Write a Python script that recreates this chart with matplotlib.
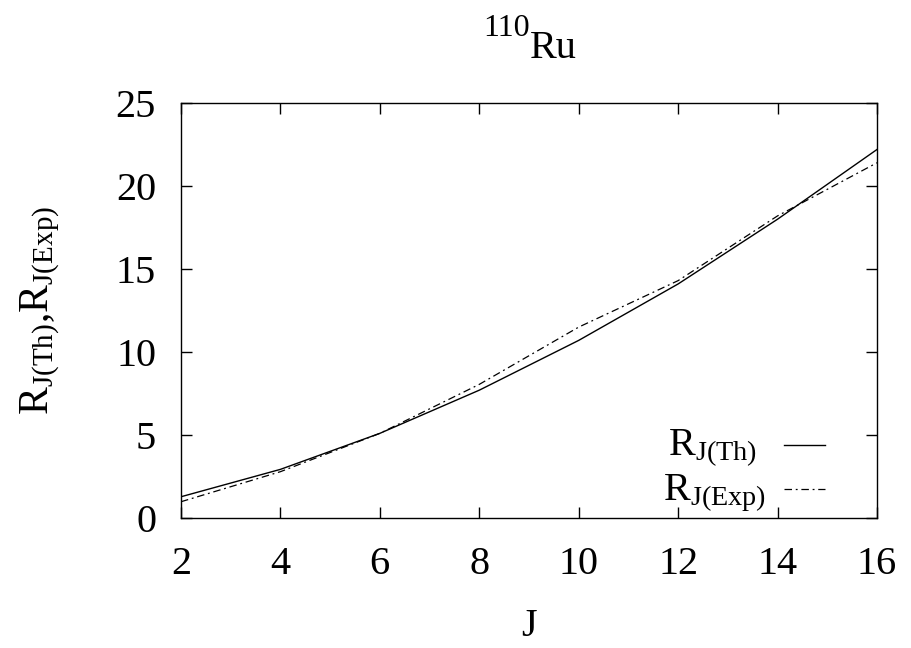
import matplotlib.pyplot as plt
from matplotlib.lines import Line2D

plt.rcParams['font.family'] = 'Liberation Serif'
plt.rcParams['mathtext.fontset'] = 'custom'
plt.rcParams['mathtext.rm'] = 'Liberation Serif'
plt.rcParams['mathtext.it'] = 'Liberation Serif'

J = [2, 4, 6, 8, 10, 12, 14, 16]
r_th = [1.28, 2.93, 5.1, 7.7, 10.7, 14.1, 18.0, 22.2]
r_exp = [0.98, 2.79, 5.1, 8.05, 11.5, 14.3, 18.2, 21.4]

W, H = 911, 648
fig = plt.figure(figsize=(W / 100, H / 100), dpi=100)
ax = fig.add_axes([181 / W, 1 - 518 / H, 696 / W, 415 / H])

th_style = dict(color='black', lw=1.0)
exp_style = dict(color='black', lw=0.9, linestyle=(0, (6, 3, 1.5, 3)))

ax.plot(J, r_th, **th_style)
ax.plot(J, r_exp, **exp_style)

ax.set_xlim(2, 16)
ax.set_ylim(0, 25)
ax.set_xticks(range(2, 17, 2))
ax.set_yticks(range(0, 26, 5))
ax.tick_params(direction='in', length=8, width=1, top=True, right=True,
               labelsize=29)
ax.tick_params(axis='x', pad=20)
ax.tick_params(axis='y', pad=18)
for s in ax.spines.values():
    s.set_linewidth(1)

# title: gnuplot-style superscript
fig.text(530 / W, 1 - 36 / H, '110', ha='right', va='baseline', fontsize=23)
fig.text(530 / W, 1 - 58 / H, 'Ru', ha='left', va='baseline', fontsize=29)

ax.set_xlabel('J', fontsize=29, labelpad=18)
ax.set_ylabel(r'$\mathrm{R_{J(Th)}{,}R_{J(Exp)}}$', fontsize=30)
ax.yaxis.set_label_coords((62 - 181) / 696, 0.5)

# key
fig.text(757 / W, 1 - 455 / H, r'$\mathrm{R_{J(Th)}}$', ha='right',
         va='baseline', fontsize=29)
fig.text(766 / W, 1 - 500 / H, r'$\mathrm{R_{J(Exp)}}$', ha='right',
         va='baseline', fontsize=29)
fig.add_artist(Line2D([784 / W, 825 / W], [1 - 445 / H, 1 - 445 / H],
                      transform=fig.transFigure, **th_style))
fig.add_artist(Line2D([784 / W, 825 / W], [1 - 489 / H, 1 - 489 / H],
                      transform=fig.transFigure, **exp_style))

fig.savefig('out.png', dpi=100)
